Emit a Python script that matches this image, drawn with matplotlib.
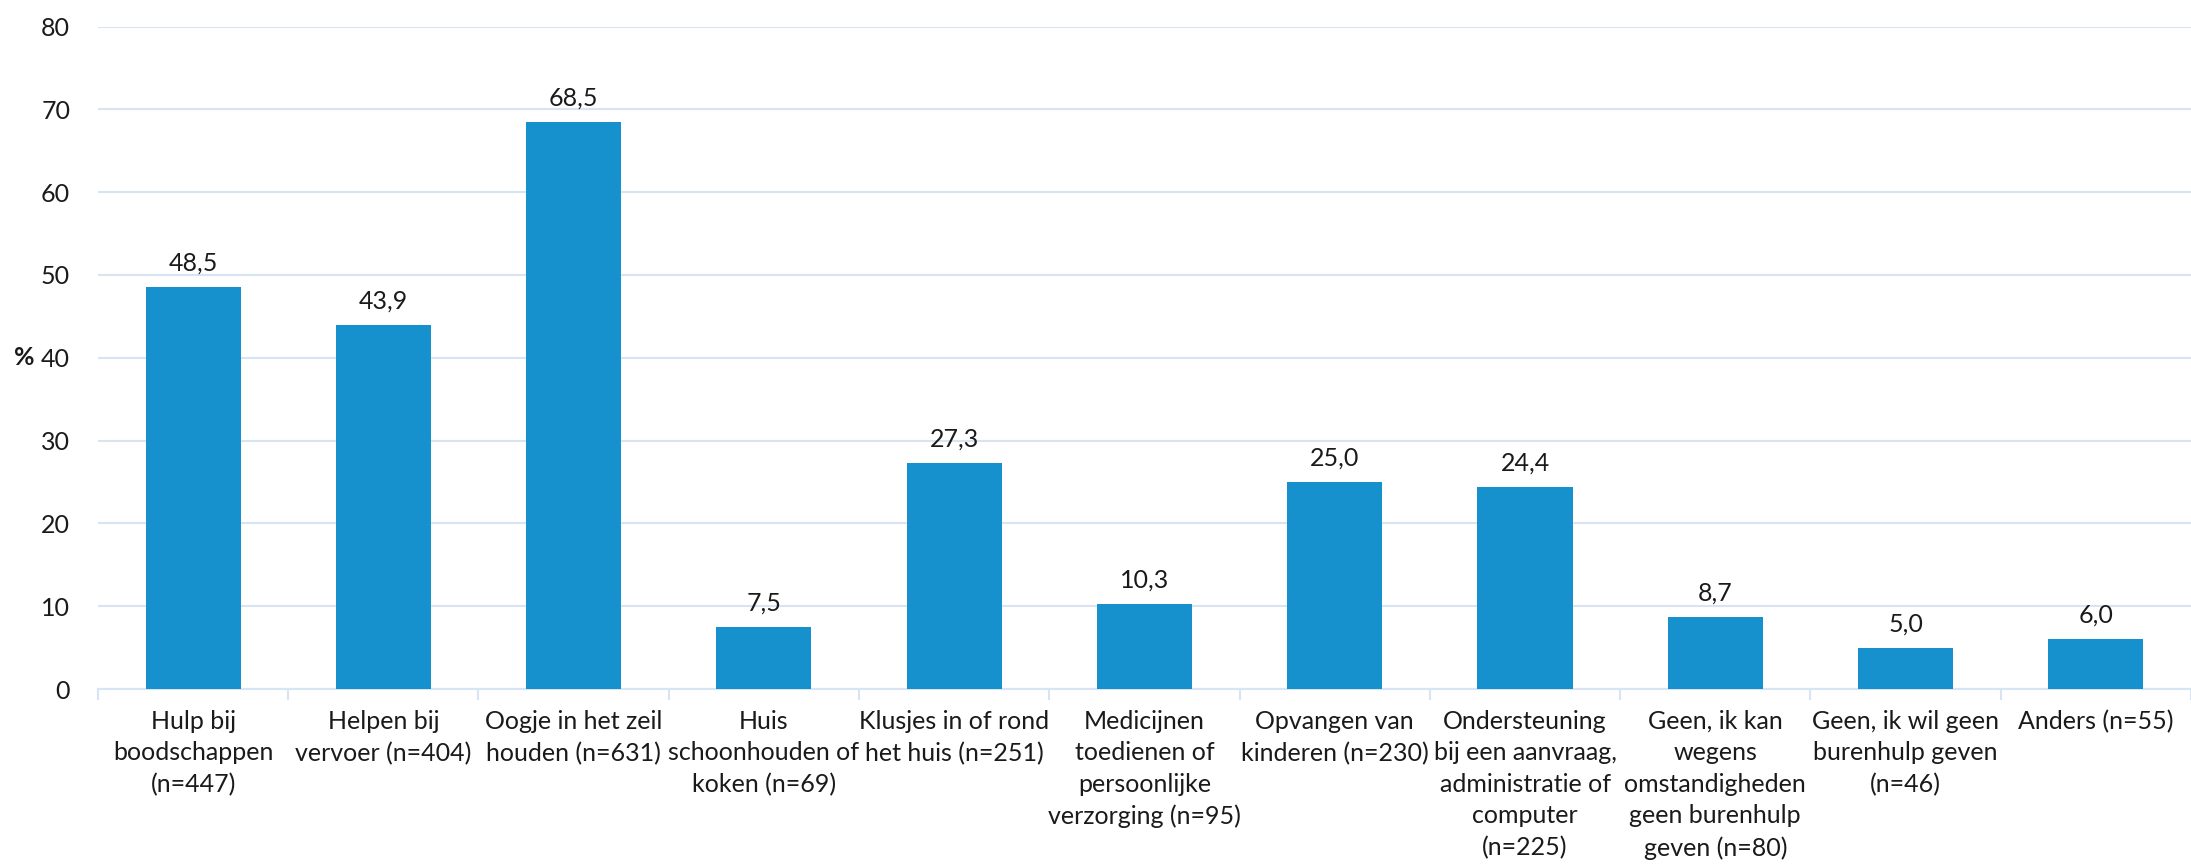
import matplotlib
matplotlib.use("Agg")
import matplotlib.pyplot as plt
import numpy as np

categories = [
    "Hulp bij\nboodschappen\n(n=447)",
    "Helpen bij\nvervoer (n=404)",
    "Oogje in het zeil\nhouden (n=631)",
    "Huis\nschoonhouden of\nkoken (n=69)",
    "Klusjes in of rond\nhet huis (n=251)",
    "Medicijnen\ntoedienen of\npersoonlijke\nverzorging (n=95)",
    "Opvangen van\nkinderen (n=230)",
    "Ondersteuning\nbij een aanvraag,\nadministratie of\ncomputer\n(n=225)",
    "Geen, ik kan\nwegens\nomstandigheden\ngeen burenhulp\ngeven (n=80)",
    "Geen, ik wil geen\nburenhulp geven\n(n=46)",
    "Anders (n=55)",
]
values = [48.5, 43.9, 68.5, 7.5, 27.3, 10.3, 25.0, 24.4, 8.7, 5.0, 6.0]
yticks = [0, 10, 20, 30, 40, 50, 60, 70, 80]

plt.rcParams['font.family'] = ['Lato', 'DejaVu Sans']

BAR = "#1790CE"
GRID = "#D6E4F4"
TXT = "#1a1a1a"
FS = 18

fig = plt.figure(figsize=(21.91, 8.67), dpi=100)
ax = fig.add_axes([0.0447, 0.2053, 0.9553, 0.7641])

x = np.arange(len(values))
ax.bar(x, values, width=0.5, color=BAR, zorder=3)
for xi, v in zip(x, values):
    ax.annotate(f"{v:.1f}".replace(".", ","), (xi, v), xytext=(0, 9),
                textcoords="offset points", ha="center", va="bottom",
                fontsize=FS, color=TXT)

ax.set_xlim(-0.5, len(values) - 0.5)
ax.set_ylim(0, 80)
ax.set_yticks(yticks)
ax.set_yticklabels([str(t) for t in yticks], fontsize=FS, color=TXT)
ax.tick_params(axis="y", length=0, pad=20)
ax.yaxis.grid(True, color=GRID, linewidth=1.5, zorder=0)
ax.set_axisbelow(True)

ax.set_xticks(x)
ax.set_xticklabels(categories, fontsize=FS, color=TXT, linespacing=1.45)
ax.tick_params(axis="x", length=0, pad=15)
ax.set_xticks(np.arange(-0.5, len(values), 1), minor=True)
ax.tick_params(axis="x", which="minor", length=8, color=GRID, width=1.5)

for s in ["top", "right", "left"]:
    ax.spines[s].set_visible(False)
ax.spines["bottom"].set_color(GRID)
ax.spines["bottom"].set_linewidth(1.5)

ax.set_ylabel("%", fontsize=FS, fontweight="bold", rotation=0, labelpad=12,
              va="center", color=TXT)

fig.savefig("out.png", dpi=100)
